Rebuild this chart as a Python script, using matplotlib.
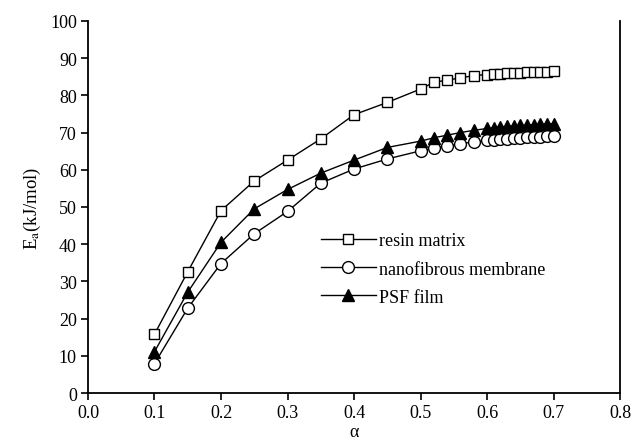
"""Activation energy Ea versus conversion alpha for three materials."""
import matplotlib
matplotlib.use("Agg")
import matplotlib.pyplot as plt

alpha = [0.10, 0.15, 0.20, 0.25, 0.30, 0.35, 0.40, 0.45, 0.50,
         0.52, 0.54, 0.56, 0.58, 0.60, 0.61, 0.62, 0.63, 0.64,
         0.65, 0.66, 0.67, 0.68, 0.69, 0.70]
resin_matrix = [15.8, 32.6, 49.0, 57.0, 62.6, 68.3, 74.8, 78.1, 81.7,
                83.5, 84.1, 84.7, 85.3, 85.6, 85.7, 85.8, 85.9, 86.0,
                86.1, 86.2, 86.2, 86.3, 86.4, 86.5]
nanofibrous = [7.9, 22.8, 34.8, 42.8, 48.8, 56.4, 60.2, 62.9, 65.1,
               65.8, 66.4, 67.0, 67.5, 67.9, 68.1, 68.3, 68.4, 68.5,
               68.6, 68.7, 68.8, 68.9, 69.0, 69.1]
psf_film = [11.1, 27.1, 40.5, 49.5, 54.7, 59.1, 62.6, 66.0, 67.7,
            68.6, 69.3, 70.0, 70.6, 71.1, 71.3, 71.5, 71.7, 71.8,
            71.9, 72.0, 72.1, 72.2, 72.3, 72.4]
x_ticks = [0.0, 0.1, 0.2, 0.3, 0.4, 0.5, 0.6, 0.7, 0.8]
y_ticks = list(range(0, 101, 10))

plt.rcParams["font.family"] = ["Liberation Serif", "DejaVu Serif"]
plt.rcParams["mathtext.fontset"] = "stix"

fig = plt.figure(figsize=(6.32, 4.39), dpi=100)
ax = fig.add_axes([0.1392, 0.1025, 0.842, 0.8475])

ax.plot(alpha, resin_matrix, color="black", lw=1.0, marker="s", ms=7.5,
        mfc="white", mec="black", mew=1.0, label="resin matrix")
ax.plot(alpha, nanofibrous, color="black", lw=1.0, marker="o", ms=8.5,
        mfc="white", mec="black", mew=1.0, label="nanofibrous membrane")
ax.plot(alpha, psf_film, color="black", lw=1.0, marker="^", ms=9.0,
        mfc="black", mec="black", label="PSF film")

ax.set_xlim(0.0, 0.8)
ax.set_ylim(0, 100)
ax.set_xticks(x_ticks)
ax.set_xticklabels([f"{t:.1f}" for t in x_ticks])
ax.set_yticks(y_ticks)
ax.tick_params(direction="out", length=5, width=1.2, labelsize=13,
               right=False, top=False, pad=3)
ax.spines["top"].set_visible(False)
for side in ("left", "bottom", "right"):
    ax.spines[side].set_linewidth(1.3)

ax.set_xlabel("α", fontsize=13, labelpad=1)
ax.set_ylabel(r"E$_{\mathrm{a}}$(kJ/mol)", fontsize=13.5, labelpad=5)

ax.legend(loc="center left", bbox_to_anchor=(0.425, 0.333), frameon=False,
          fontsize=13, handlelength=3.0, handletextpad=0.2,
          labelspacing=0.62, borderaxespad=0)

fig.savefig("out.png", dpi=100)
